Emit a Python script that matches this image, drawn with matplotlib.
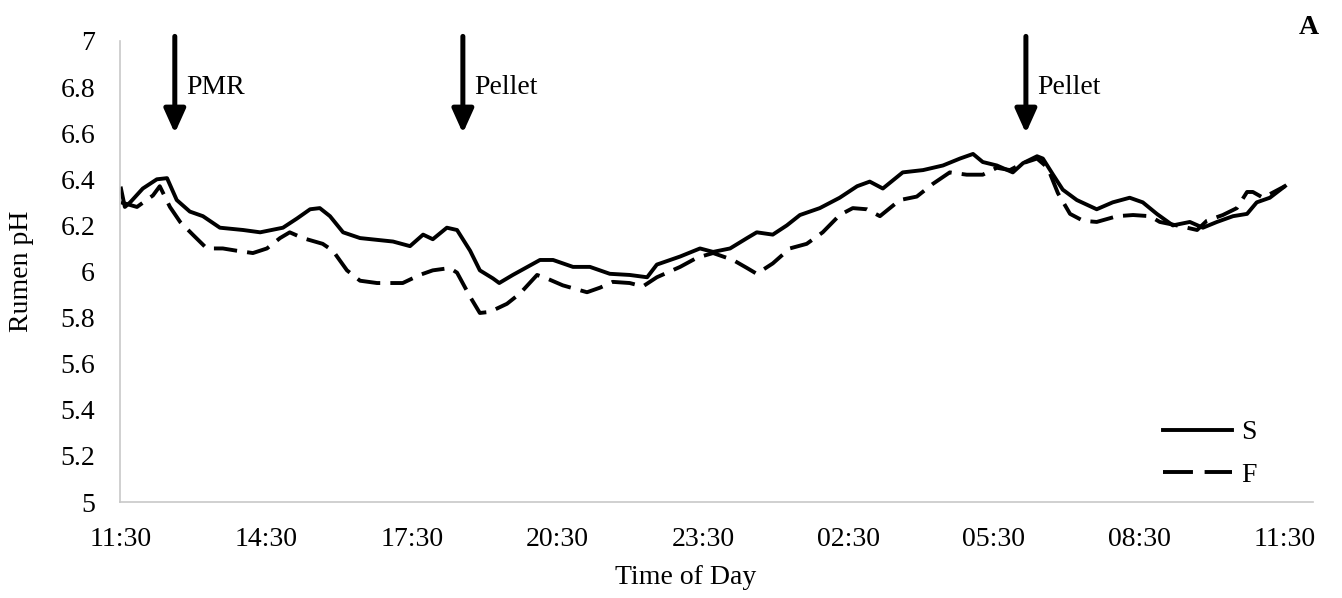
import matplotlib
matplotlib.use("Agg")
import matplotlib.pyplot as plt
from matplotlib.lines import Line2D

plt.rcParams['font.family'] = ['Liberation Serif', 'DejaVu Serif']

# hours after 11:30
s_hours = [0, 0.08, 0.19, 0.45, 0.74, 0.95, 1.15, 1.42, 1.69, 2.04, 2.52, 2.87, 3.34, 3.63,
           3.90, 4.10, 4.31, 4.58, 4.93, 5.61, 5.96, 6.23, 6.43, 6.72, 6.93, 7.20, 7.40, 7.67,
           7.80, 8.08, 8.64, 8.91, 9.32, 9.67, 10.08, 10.49, 10.85, 11.05, 11.53, 11.94, 12.21,
           12.56, 12.91, 13.11, 13.44, 13.73, 14.00, 14.41, 14.82, 15.18, 15.44, 15.71, 16.12,
           16.54, 16.95, 17.30, 17.57, 17.77, 18.06, 18.39, 18.60, 18.89, 19.01, 19.22, 19.42,
           19.71, 20.12, 20.45, 20.80, 21.07, 21.36, 21.69, 22.04, 22.31, 22.60, 22.93, 23.22,
           23.42, 23.69, 24.0]
s_ph = [6.36, 6.28, 6.30, 6.36, 6.40, 6.405, 6.31, 6.26, 6.24, 6.19, 6.18, 6.17, 6.19, 6.23,
        6.27, 6.275, 6.24, 6.17, 6.145, 6.13, 6.11, 6.16, 6.14, 6.19, 6.18, 6.09, 6.005, 5.97,
        5.95, 5.985, 6.05, 6.05, 6.02, 6.02, 5.99, 5.985, 5.975, 6.03, 6.065, 6.10, 6.085,
        6.10, 6.145, 6.17, 6.16, 6.20, 6.245, 6.275, 6.32, 6.37, 6.39, 6.36, 6.43,
        6.44, 6.46, 6.49, 6.51, 6.475, 6.46, 6.43, 6.47, 6.50, 6.49, 6.42, 6.355,
        6.31, 6.27, 6.30, 6.32, 6.30, 6.25, 6.20, 6.215, 6.19, 6.215, 6.24, 6.25,
        6.30, 6.32, 6.37]

f_hours = [0, 0.33, 0.66, 0.80, 1.01, 1.22, 1.48, 1.77, 2.10, 2.39, 2.72, 3.01, 3.28, 3.48,
           3.75, 4.16, 4.37, 4.66, 4.93, 5.28, 5.81, 6.16, 6.43, 6.78, 6.93, 7.20, 7.40, 7.61,
           7.81, 7.96, 8.23, 8.58, 8.78, 9.11, 9.61, 9.88, 10.14, 10.49, 10.76, 11.05, 11.53,
           11.88, 12.21, 12.62, 12.91, 13.11, 13.44, 13.79, 14.14, 14.47, 14.82, 15.09, 15.38,
           15.65, 16.06, 16.41, 16.74, 17.09, 17.44, 17.77, 18.06, 18.33, 18.60, 18.89, 19.11,
           19.32, 19.57, 19.84, 20.12, 20.54, 20.87, 21.22, 21.42, 21.77, 22.19, 22.39, 22.72,
           23.01, 23.22, 23.34, 23.55, 24.0]
f_ph = [6.30, 6.28, 6.33, 6.37, 6.28, 6.215, 6.16, 6.10, 6.10, 6.09, 6.08, 6.10, 6.145, 6.17,
        6.145, 6.12, 6.09, 6.005, 5.96, 5.95, 5.95, 5.985, 6.005, 6.015, 5.995, 5.89, 5.82, 5.825,
        5.845, 5.86, 5.905, 5.985, 5.97, 5.94, 5.91, 5.93, 5.955, 5.95, 5.935, 5.975, 6.02,
        6.06, 6.08, 6.05, 6.015, 5.99, 6.035, 6.10, 6.12, 6.17, 6.245, 6.275, 6.27,
        6.24, 6.31, 6.325, 6.38, 6.43, 6.42, 6.42, 6.45, 6.44, 6.47, 6.49, 6.45,
        6.34, 6.25, 6.22, 6.215, 6.24, 6.245, 6.24, 6.215, 6.20, 6.18, 6.22, 6.245,
        6.275, 6.345, 6.345, 6.32, 6.37]

tick_hours = [0, 3, 6, 9, 12, 15, 18, 21, 24]
tick_labels = ['11:30', '14:30', '17:30', '20:30', '23:30', '02:30', '05:30', '08:30', '11:30']
y_ticks = [5, 5.2, 5.4, 5.6, 5.8, 6, 6.2, 6.4, 6.6, 6.8, 7]
y_labels = ['5', '5.2', '5.4', '5.6', '5.8', '6', '6.2', '6.4', '6.6', '6.8', '7']

event_hours = [1.11, 7.05, 18.66]
event_labels = ['PMR', 'Pellet', 'Pellet']

W, H = 1342, 598
fig = plt.figure(figsize=(W / 100, H / 100), dpi=100)
ax = fig.add_axes([120 / W, 1 - 502 / H, (1313 - 120) / W, (502 - 41) / H])

fs = 20
lw = 2.8
ax.plot(s_hours, s_ph, color='black', lw=lw, solid_joinstyle='round')
ax.plot(f_hours, f_ph, color='black', lw=lw, dashes=(6.0, 2.6))

ax.set_xlim(-0.02, 24.58)
ax.set_ylim(5, 7)
ax.set_xticks(tick_hours)
ax.set_xticklabels(tick_labels)
ax.set_yticks(y_ticks)
ax.set_yticklabels(y_labels)
ax.tick_params(axis='both', length=0, labelsize=fs)
ax.tick_params(axis='y', pad=18)
ax.tick_params(axis='x', pad=18)
for side in ['top', 'right']:
    ax.spines[side].set_visible(False)
for side in ['left', 'bottom']:
    ax.spines[side].set_color('#c8c8c8')
    ax.spines[side].set_linewidth(1.2)

for h, lab in zip(event_hours, event_labels):
    ax.annotate('', xy=(h, 6.6), xytext=(h, 7.02), annotation_clip=False,
                arrowprops=dict(arrowstyle='-|>,head_length=0.8,head_width=0.36',
                                lw=3.6, color='black', mutation_scale=18,
                                shrinkA=0, shrinkB=0))
    ax.text(h + 0.23, 6.80, lab, fontsize=fs, va='center', ha='left')

fig.text(1309 / W, 1 - 28 / H, 'A', fontsize=fs, fontweight='bold', ha='center', va='center')
fig.text(22 / W, 1 - 271 / H, 'Rumen pH', fontsize=fs, rotation=90, ha='center', va='center')
fig.text(686 / W, 1 - 578 / H, 'Time of Day', fontsize=fs, ha='center', va='center')

handles = [Line2D([], [], color='black', lw=lw),
           Line2D([], [], color='black', lw=lw, dashes=(7.7, 3.0))]
fig.legend(handles, ['S', 'F'], loc='center left', bbox_to_anchor=(1163 / W, 1 - 454 / H),
           bbox_transform=fig.transFigure, frameon=False, fontsize=fs, borderpad=0,
           borderaxespad=0, handlelength=2.5, handletextpad=0.3, labelspacing=0.62)

fig.savefig('out.png', dpi=100)
